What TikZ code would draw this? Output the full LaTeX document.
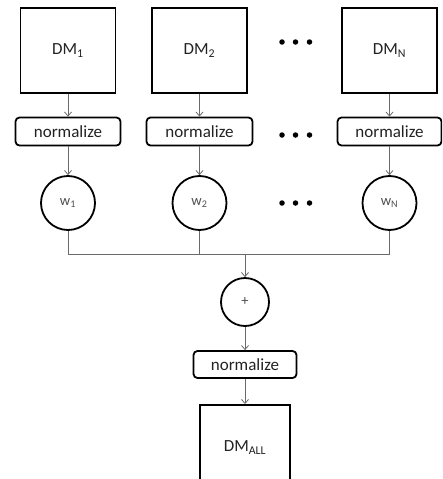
\documentclass[tikz,border=0pt]{standalone}
\usepackage{fontspec}
\setmainfont{Carlito}
\usetikzlibrary{arrows.meta}
\definecolor{linegray}{HTML}{6A6A6A}
\definecolor{txt}{HTML}{222222}
\tikzset{
  dmbox/.style={draw=black, line width=1.8pt, minimum width=95pt, minimum height=85pt, inner sep=0pt, font=\fontsize{17}{19}\selectfont, text=txt},
  normbox/.style={draw=black, line width=1.8pt, rounded corners=4pt, minimum height=28pt, inner sep=0pt, font=\fontsize{17}{19}\selectfont, text=txt},
  wcirc/.style={draw=black, line width=1.8pt, circle, minimum size=54pt, inner sep=0pt, font=\fontsize{14.5}{16}\selectfont, text=txt!80},
  conn/.style={draw=linegray, line width=0.8pt},
  arr/.style={conn, -{Straight Barb[length=4pt,width=7pt,line width=0.8pt]}},
  dot/.style={circle, fill=black, minimum size=5.5pt, inner sep=0pt}
}
\begin{document}
\begin{tikzpicture}[x=1pt,y=-1pt]
\clip (0,0) rectangle (442,479);
\useasboundingbox (0,0) rectangle (442,479);
% top boxes
\node[dmbox] (dm1) at (68,50.5) {DM\textsubscript{1}};
\node[dmbox] (dm2) at (199.5,50.5) {DM\textsubscript{2}};
\node[dmbox] (dmn) at (389.5,50.5) {DM\textsubscript{N}};
% normalize boxes
\node[normbox, minimum width=105pt] (n1) at (68,131.5) {normalize};
\node[normbox, minimum width=106pt] (n2) at (199.5,131.5) {normalize};
\node[normbox, minimum width=104pt] (nn) at (389.5,131.5) {normalize};
% weight circles
\node[wcirc] (w1) at (68,203) {w\textsubscript{1}};
\node[wcirc] (w2) at (199.5,203) {w\textsubscript{2}};
\node[wcirc] (wn) at (389.5,203) {w\textsubscript{N}};
% dots
\foreach \r/\yy in {a/42,b/135,c/203}{
  \node[dot] (d\r1) at (282,\yy) {};
  \node[dot] (d\r2) at (295.5,\yy) {};
  \node[dot] (d\r3) at (309.5,\yy) {};
}
% sum
\coordinate (j) at (245,254);
\node[wcirc, minimum size=48pt] (plus) at (245,302) {+};
\node[normbox, minimum width=103pt, minimum height=27pt] (nall) at (245,364.5) {normalize};
\node[dmbox, minimum width=90pt, anchor=north] (dmall) at (245,404) {DM\textsubscript{ALL}};
% connectors
\draw[arr] (dm1) -- (n1);
\draw[arr] (dm2) -- (n2);
\draw[arr] (dmn) -- (nn);
\draw[arr] (n1) -- (w1);
\draw[arr] (n2) -- (w2);
\draw[arr] (nn) -- (wn);
\draw[conn] (w1.south) |- (j);
\draw[conn] (w2.south) |- (j);
\draw[conn] (wn.south) |- (j);
\draw[arr] (j) -- (plus);
\draw[arr] (plus) -- (nall);
\draw[arr] (nall) -- (dmall);
\end{tikzpicture}
\end{document}
